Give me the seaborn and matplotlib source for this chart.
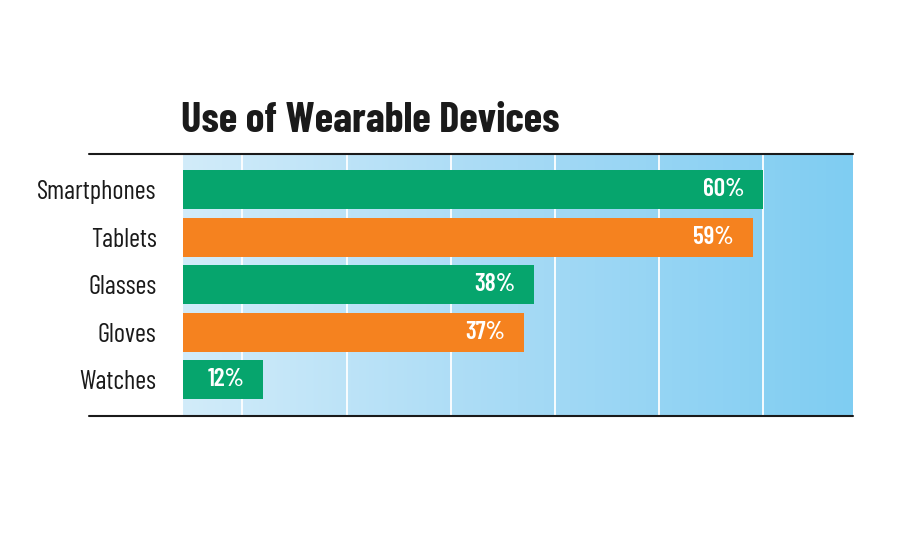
import numpy as np
import pandas as pd
import matplotlib.pyplot as plt
from matplotlib.colors import LinearSegmentedColormap
import seaborn as sns

devices = ['Smartphones', 'Tablets', 'Glasses', 'Gloves', 'Watches']
share = [60, 59, 38, 37, 12]
bar_colors = ['#06a56d', '#f5821f', '#06a56d', '#f5821f', '#06a56d']
grid_ticks = [10, 20, 30, 40, 50, 60]

data = pd.DataFrame({'device': devices, 'share': share})

sns.set_style('white')
plt.rcParams['font.family'] = ['Barlow Condensed', 'Roboto Condensed', 'DejaVu Sans']

fig = plt.figure(figsize=(9, 5.5), dpi=100)
ax = fig.add_axes([183 / 900, 1 - 416 / 550, 670 / 900, 262 / 550])

# gradient background, light blue on the left to stronger blue on the right
bg = LinearSegmentedColormap.from_list('bg', ['#d2ecfa', '#a6daf5', '#7fcdf2'])
ax.imshow(np.linspace(0, 1, 256).reshape(1, -1), cmap=bg, aspect='auto',
          extent=[0, 1, 0, 1], transform=ax.transAxes, zorder=0)

sns.barplot(data=data, x='share', y='device', hue='device', palette=bar_colors,
            orient='h', width=0.82, legend=False, saturation=1, linewidth=0,
            ax=ax, zorder=3)

ax.set_xlim(4.3, 68.6)
ax.set_ylim(4.76, -0.75)
ax.set_xticks(grid_ticks)
ax.xaxis.grid(True, color='white', linewidth=1.3, zorder=1)
ax.set_axisbelow(True)
ax.tick_params(axis='x', length=0, labelbottom=False)
ax.tick_params(axis='y', length=0, pad=19, labelsize=19, labelcolor='#1a1a1a')
ax.set_xlabel('')
ax.set_ylabel('')
for s in ax.spines.values():
    s.set_visible(False)

for i, v in enumerate(share):
    ax.annotate(f'{v}%', (v, i), xytext=(-19, 0), textcoords='offset pixels',
                ha='right', va='center', color='white', fontsize=18,
                fontweight=600, zorder=4)

# top and bottom rules running out past the labels
for yy in (0, 1):
    ax.plot([-0.14, 1], [yy, yy], transform=ax.transAxes, color='#1a1a1a',
            linewidth=1.5, clip_on=False, zorder=5)

fig.text(181 / 900, 1 - 121 / 550, 'Use of Wearable Devices', fontsize=30.5,
         fontweight=700, va='center', ha='left', color='#1a1a1a')

fig.savefig('out.png', dpi=100)
